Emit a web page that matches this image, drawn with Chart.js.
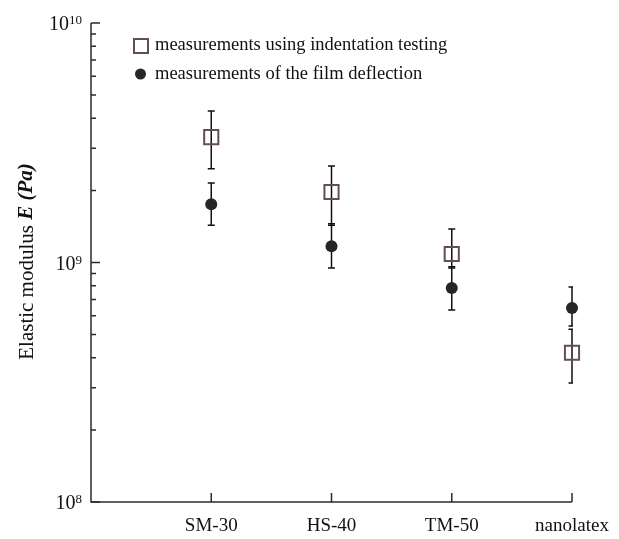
<!DOCTYPE html>
<html>
<head>
<meta charset="utf-8">
<script src="https://cdn.jsdelivr.net/npm/chart.js@4/dist/chart.umd.min.js"></script>
<style>
  html, body { margin: 0; padding: 0; background: #fff; }
  canvas { display: block; }
</style>
</head>
<body>
<canvas id="chart" width="619" height="539"></canvas>
<script>
/* Elastic modulus by material: indentation vs film deflection, log axis 1e8..1e10 */
const categories = ["SM-30", "HS-40", "TM-50", "nanolatex"];

// indentation testing (open squares)
const indentE  = [3.34e9, 1.97e9, 1.085e9, 0.42e9];
const indentLo = [2.46e9, 1.43e9, 0.948e9, 0.314e9];
const indentHi = [4.29e9, 2.53e9, 1.38e9, 0.527e9];

// film deflection (filled circles)
const filmE  = [1.75e9, 1.17e9, 0.783e9, 0.646e9];
const filmLo = [1.43e9, 0.948e9, 0.633e9, 0.543e9];
const filmHi = [2.15e9, 1.45e9, 0.96e9, 0.79e9];

// y axis: decade exponents and minor steps
const yExponents = [8, 9, 10];
const yMinor = [2, 3, 4, 5, 6, 7, 8, 9];

const legendLabels = ["measurements using indentation testing", "measurements of the film deflection"];

const SERIF = '"Liberation Serif", "DejaVu Serif", serif';
const AXIS = "#2b2b2b";
const SQ = "#634f4f";
const DOT = "#262626";

const pts = vals => vals.map((v, i) => ({ x: i + 1, y: v }));

// error bars, clipped at the right edge of the plot like the original
const errorBars = {
  id: "errorBars",
  beforeDatasetsDraw(chart) {
    const { ctx, chartArea: a, scales: { x, y } } = chart;
    ctx.save();
    ctx.beginPath();
    ctx.rect(a.left, 0, a.right - a.left + 1, chart.height);
    ctx.clip();
    ctx.strokeStyle = "#111";
    ctx.lineWidth = 1.5;
    [[indentLo, indentHi], [filmLo, filmHi]].forEach(([lo, hi]) => {
      lo.forEach((v, i) => {
        const px = x.getPixelForValue(i + 1);
        const y0 = y.getPixelForValue(v), y1 = y.getPixelForValue(hi[i]);
        ctx.beginPath();
        ctx.moveTo(px, y0); ctx.lineTo(px, y1);
        ctx.moveTo(px - 3.5, y0); ctx.lineTo(px + 3.5, y0);
        ctx.moveTo(px - 3.5, y1); ctx.lineTo(px + 3.5, y1);
        ctx.stroke();
      });
    });
    ctx.restore();
  },
};

// axes, ticks, labels, legend drawn the way the paper figure does
const paperAxes = {
  id: "paperAxes",
  afterDraw(chart) {
    const { ctx, chartArea: a, scales: { x, y } } = chart;
    ctx.save();
    ctx.strokeStyle = AXIS;
    ctx.lineWidth = 1.5;
    ctx.beginPath();
    ctx.moveTo(a.left, a.top); ctx.lineTo(a.left, a.bottom); ctx.lineTo(a.right, a.bottom);
    ctx.stroke();

    ctx.beginPath();
    yExponents.forEach((e, k) => {
      const py = y.getPixelForValue(10 ** e);
      ctx.moveTo(a.left, py); ctx.lineTo(a.left + 9, py);
      if (k < yExponents.length - 1) {
        yMinor.forEach(m => {
          const q = y.getPixelForValue(m * 10 ** e);
          ctx.moveTo(a.left, q); ctx.lineTo(a.left + 5, q);
        });
      }
    });
    categories.forEach((c, i) => {
      const px = x.getPixelForValue(i + 1);
      ctx.moveTo(px, a.bottom); ctx.lineTo(px, a.bottom - 9);
    });
    ctx.stroke();

    // y tick labels 10^n
    ctx.fillStyle = "#111";
    ctx.textBaseline = "alphabetic";
    yExponents.forEach(e => {
      const py = y.getPixelForValue(10 ** e);
      ctx.font = `13px ${SERIF}`;
      const ew = ctx.measureText(String(e)).width;
      const right = 82;
      ctx.textAlign = "left";
      ctx.fillText(String(e), right - ew, py + 1);
      ctx.font = `20px ${SERIF}`;
      ctx.textAlign = "right";
      ctx.fillText("10", right - ew, py + 7);
    });

    // category labels
    ctx.font = `19px ${SERIF}`;
    ctx.textAlign = "center";
    categories.forEach((c, i) => ctx.fillText(c, x.getPixelForValue(i + 1), 531));

    // y title
    ctx.save();
    ctx.translate(27, (a.top + a.bottom) / 2 - 1);
    ctx.rotate(-Math.PI / 2);
    const t1 = "Elastic modulus ", t2 = "E (Pa)";
    ctx.font = `21px ${SERIF}`;
    const w1 = ctx.measureText(t1).width;
    ctx.font = `italic bold 21px ${SERIF}`;
    const w2 = ctx.measureText(t2).width;
    ctx.textAlign = "left";
    ctx.textBaseline = "middle";
    ctx.font = `21px ${SERIF}`;
    ctx.fillText(t1, -(w1 + w2) / 2, 0);
    ctx.font = `italic bold 21px ${SERIF}`;
    ctx.fillText(t2, -(w1 + w2) / 2 + w1, 0);
    ctx.restore();

    // legend
    ctx.font = `18.5px ${SERIF}`;
    ctx.textAlign = "left";
    ctx.textBaseline = "middle";
    ctx.strokeStyle = SQ;
    ctx.lineWidth = 2;
    ctx.strokeRect(134, 39, 14, 14);
    ctx.fillText(legendLabels[0], 155, 45);
    ctx.fillStyle = DOT;
    ctx.beginPath();
    ctx.arc(140.5, 74, 5.5, 0, Math.PI * 2);
    ctx.fill();
    ctx.fillStyle = "#111";
    ctx.fillText(legendLabels[1], 155, 74);
    ctx.restore();
  },
};

new Chart(document.getElementById("chart"), {
  type: "scatter",
  data: {
    datasets: [
      { label: legendLabels[0], data: pts(indentE), pointStyle: "rect", pointRadius: 10,
        borderColor: SQ, borderWidth: 2, backgroundColor: "rgba(0,0,0,0)", clip: false },
      { label: legendLabels[1], data: pts(filmE), pointStyle: "circle", pointRadius: 6,
        borderWidth: 0, backgroundColor: DOT, clip: false },
    ],
  },
  options: {
    responsive: false, animation: false, events: [],
    layout: { padding: { left: 91, right: 47, top: 23, bottom: 37 } },
    plugins: { legend: { display: false }, tooltip: { enabled: false } },
    scales: {
      x: { type: "linear", min: 0, max: 4, display: false },
      y: { type: "logarithmic", min: 1e8, max: 1e10, display: false },
    },
  },
  plugins: [errorBars, paperAxes],
});
</script>
</body>
</html>
